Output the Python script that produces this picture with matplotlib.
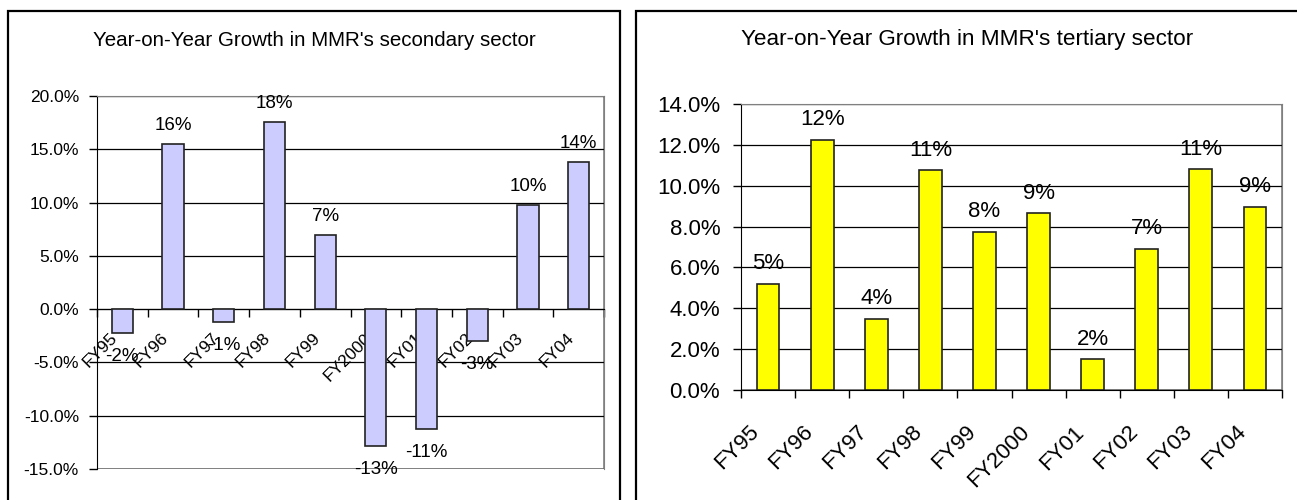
import matplotlib
matplotlib.use('Agg')
import matplotlib.pyplot as plt
import matplotlib.patches as mpatches
from matplotlib.transforms import ScaledTranslation
import numpy as np

plt.rcParams['font.family'] = ['Liberation Sans', 'DejaVu Sans']

years = ['FY95', 'FY96', 'FY97', 'FY98', 'FY99', 'FY2000', 'FY01', 'FY02', 'FY03', 'FY04']
# growth in percent
secondary = [-2.2, 15.5, -1.2, 17.6, 7.0, -12.8, -11.2, -3.0, 9.8, 13.8]
tertiary = [5.2, 12.25, 3.5, 10.75, 7.75, 8.65, 1.5, 6.9, 10.8, 8.95]

title_sec = "Year-on-Year Growth in MMR's secondary sector"
title_ter = "Year-on-Year Growth in MMR's tertiary sector"

W, H = 1297, 500
fig = plt.figure(figsize=(W / 100, H / 100), dpi=100)


def pct_label(v):
    return '%d%%' % int(np.floor(v + 0.5))


def draw(ax, vals, color, ylim, step, tick_fs, lab_fs, xpad, xshift, ypad):
    # move the x axis to zero first, this resets the ticks
    for s in ['top', 'right']:
        ax.spines[s].set_color('#808080')
    ax.spines['left'].set_color('black')
    ax.spines['bottom'].set_color('black')
    ax.spines['bottom'].set_position(('data', 0))
    ax.add_patch(mpatches.Rectangle((0, 0), 1, 1, transform=ax.transAxes, fill=False,
                                    edgecolor='#808080', linewidth=1.2, zorder=0.5))

    x = np.arange(len(vals))
    ax.bar(x, vals, width=0.42, color=color, edgecolor='#222222', linewidth=1.2, zorder=3)
    ax.set_xlim(-0.5, len(vals) - 0.5)
    ax.set_ylim(*ylim)
    ax.set_yticks(np.arange(ylim[0], ylim[1] + step / 2, step))
    ax.set_yticklabels(['%.1f%%' % t for t in ax.get_yticks()], fontsize=tick_fs)
    ax.yaxis.grid(True, color='black', linewidth=0.9)
    ax.set_axisbelow(True)
    ax.tick_params(axis='y', direction='out', length=6, width=1, pad=ypad)

    ax.set_xticks(x)
    ax.set_xticks(np.arange(-0.5, len(vals), 1.0), minor=True)
    ax.tick_params(axis='x', which='major', length=0, pad=xpad)
    ax.tick_params(axis='x', which='minor', direction='out', length=6, width=1)
    ax.set_xticklabels(years, fontsize=tick_fs, rotation=45, ha='right', va='center',
                       rotation_mode='anchor')
    off = ScaledTranslation(xshift / 100, 0, fig.dpi_scale_trans)
    for lab in ax.get_xticklabels():
        lab.set_transform(lab.get_transform() + off)

    for xi, v in zip(x, vals):
        if v >= 0:
            ax.annotate(pct_label(v), (xi, v), xytext=(0, 7), textcoords='offset points',
                        ha='center', va='bottom', fontsize=lab_fs, zorder=4)
        else:
            ax.annotate(pct_label(v), (xi, v), xytext=(0, -11), textcoords='offset points',
                        ha='center', va='top', fontsize=lab_fs, zorder=4)


ax1 = fig.add_axes([97 / W, 1 - 469 / H, 507 / W, 373 / H])
draw(ax1, secondary, '#CCCCFF', (-15, 20), 5, 12.5, 13.5, 19, -7, 7)

ax2 = fig.add_axes([741 / W, 1 - 390 / H, 541 / W, 286 / H])
draw(ax2, tertiary, '#FFFF00', (0, 14), 2, 16, 16, 28, -12, 9)

# panel frames
fig.patches.append(mpatches.Rectangle((8 / W, -0.02), 612 / W, 1.02 - 11 / H, transform=fig.transFigure,
                                      fill=False, edgecolor='black', linewidth=1.6))
fig.patches.append(mpatches.Rectangle((636 / W, -0.02), 700 / W, 1.02 - 11 / H, transform=fig.transFigure,
                                      fill=False, edgecolor='black', linewidth=1.6))

fig.text(314 / W, 1 - 40 / H, title_sec, ha='center', va='center', fontsize=14.8)
fig.text(967 / W, 1 - 40 / H, title_ter, ha='center', va='center', fontsize=16.2)

fig.savefig('out.png', dpi=100)
